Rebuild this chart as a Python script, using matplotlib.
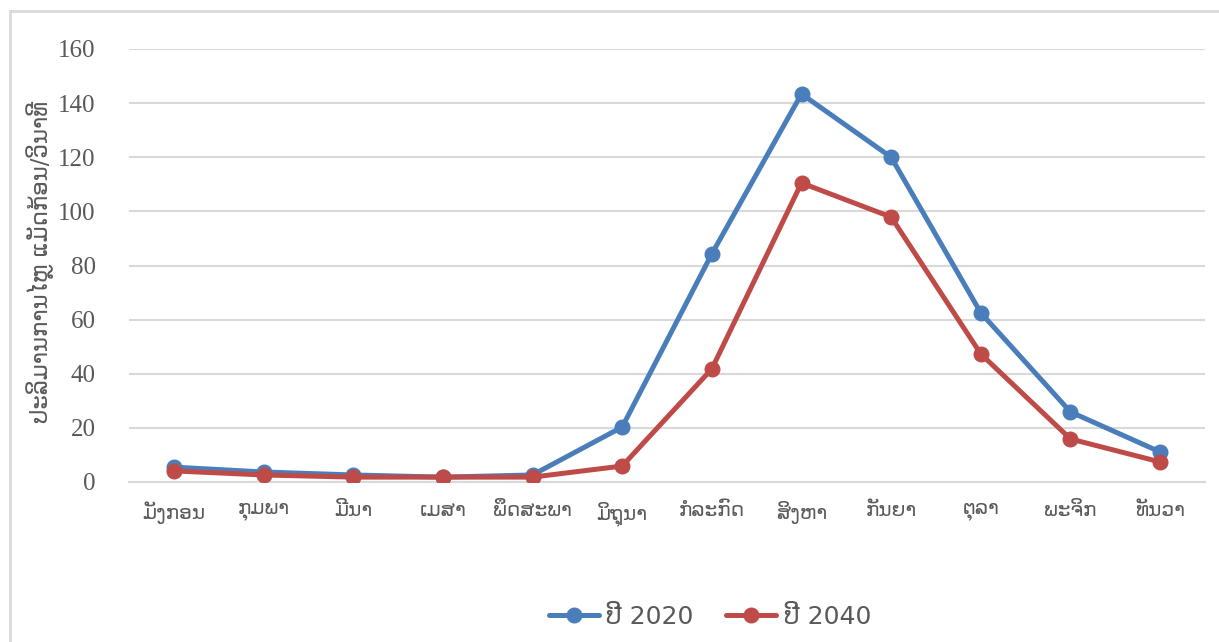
import matplotlib
matplotlib.use("Agg")
import matplotlib.pyplot as plt
from matplotlib.lines import Line2D

months = ["ມັງກອນ", "ກຸມພາ", "ມີນາ", "ເມສາ", "ພຶດສະພາ", "ມິຖຸນາ",
          "ກໍລະກົດ", "ສິງຫາ", "ກັນຍາ", "ຕຸລາ", "ພະຈິກ", "ທັນວາ"]
flow_2020 = [5.5, 3.7, 2.6, 1.8, 2.6, 20.3, 84.3, 143.4, 120.0, 62.5, 25.9, 11.1]
flow_2040 = [4.1, 2.6, 1.8, 1.8, 1.8, 5.9, 41.8, 110.5, 97.9, 47.3, 15.9, 7.4]
y_ticks = [0, 20, 40, 60, 80, 100, 120, 140, 160]
series_names = ["ປີ 2020", "ປີ 2040"]
y_label = "ປະລິມານການໄຫຼ ແມັດກ້ອນ/ວິນາທີ"

BLUE = "#4A7EBB"
RED = "#BE4B48"
GRID = "#D9D9D9"
TEXT = "#595959"
LAO = ["DejaVu Sans"]
SERIF = ["Liberation Serif", "DejaVu Sans"]

fig = plt.figure(figsize=(12.19, 6.42), dpi=100)
W, H = 1219, 642
ax = fig.add_axes([129 / W, 1 - 482 / H, (1205 - 129) / W, (482 - 49) / H])

x = list(range(len(months)))
ax.plot(x, flow_2020, color=BLUE, lw=3.6, marker="o", ms=10.5,
        solid_capstyle="round", solid_joinstyle="round",
        label=series_names[0], zorder=3)
ax.plot(x, flow_2040, color=RED, lw=3.6, marker="o", ms=10.5,
        solid_capstyle="round", solid_joinstyle="round",
        label=series_names[1], zorder=4)

ax.set_xlim(-0.5, len(months) - 0.5)
ax.set_ylim(0, 160)
ax.set_yticks(y_ticks)
ax.set_yticklabels([str(v) for v in y_ticks], family=SERIF, fontsize=18, color=TEXT)
ax.set_xticks(x)
ax.set_xticklabels(months, family=LAO, fontsize=14.5, color=TEXT)
ax.tick_params(axis="both", length=0)
ax.tick_params(axis="y", pad=24)
ax.tick_params(axis="x", pad=14)
ax.grid(axis="y", color=GRID, lw=1.5)
ax.set_axisbelow(True)
for s in ["top", "right", "left"]:
    ax.spines[s].set_visible(False)
ax.spines["bottom"].set_color(GRID)
ax.spines["bottom"].set_linewidth(1.5)

fig.text(40 / W, 1 - 262 / H, y_label, rotation=90, ha="center", va="center",
         family=LAO, fontsize=16.5, color=TEXT)

# outer chart frame (left and top edges)
fig.add_artist(Line2D([10 / W, 10 / W], [0, 1 - 11 / H], transform=fig.transFigure,
                      color=GRID, lw=2))
fig.add_artist(Line2D([10 / W, 1], [1 - 11 / H, 1 - 11 / H], transform=fig.transFigure,
                      color=GRID, lw=2))

leg = fig.legend(loc="center", bbox_to_anchor=(710 / W, 1 - 617 / H), ncol=2,
                 frameon=False, prop={"family": LAO, "size": 18},
                 handlelength=2.0, columnspacing=1.3, handletextpad=0.3)
for t in leg.get_texts():
    t.set_color(TEXT)

fig.savefig("out.png", dpi=100, facecolor="white")
